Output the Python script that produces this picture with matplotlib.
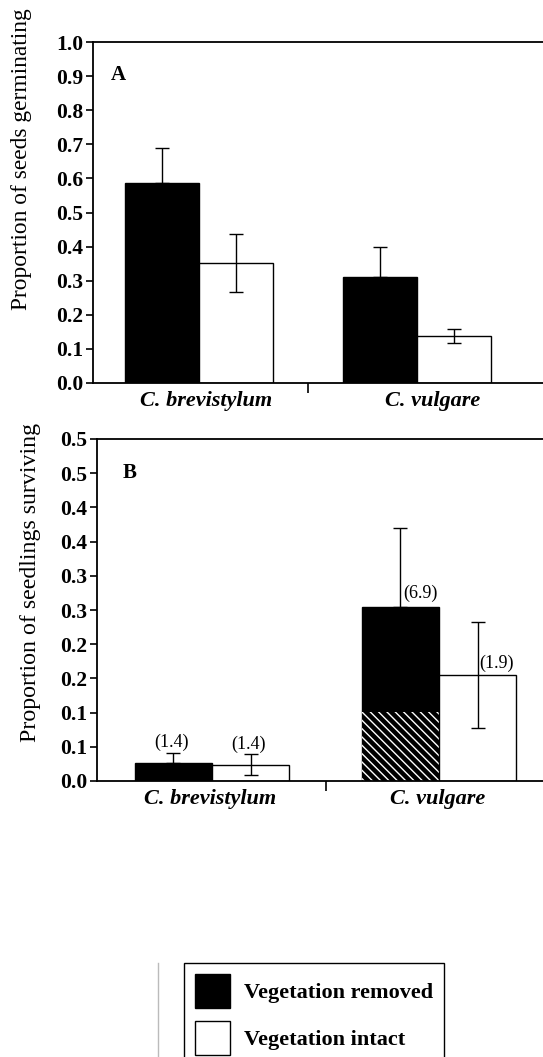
import matplotlib
matplotlib.use("Agg")
import matplotlib.pyplot as plt
from matplotlib.patches import Patch
from matplotlib.lines import Line2D
import matplotlib.transforms as mtransforms
import numpy as np

plt.rcParams['font.family'] = ['Liberation Serif', 'DejaVu Serif']

species = ["C. brevistylum", "C. vulgare"]
legend_labels = ["Vegetation removed", "Vegetation intact"]

# Panel A: proportion of seeds germinating
germ_removed = [0.586, 0.31]
germ_removed_err = [0.104, 0.088]
germ_intact = [0.351, 0.138]
germ_intact_err = [0.085, 0.02]
a_ticks = [0.0, 0.1, 0.2, 0.3, 0.4, 0.5, 0.6, 0.7, 0.8, 0.9, 1.0]
a_ticklabels = ["0.0", "0.1", "0.2", "0.3", "0.4", "0.5", "0.6", "0.7", "0.8", "0.9", "1.0"]

# Panel B: proportion of seedlings surviving
surv_removed = [0.027, 0.254]
surv_removed_hatched = [0.0, 0.101]
surv_removed_err = [0.014, 0.116]
surv_intact = [0.024, 0.155]
surv_intact_err = [0.015, 0.078]
surv_removed_notes = ["(1.4)", "(6.9)"]
surv_intact_notes = ["(1.4)", "(1.9)"]
b_ticks = [0.0, 0.05, 0.10, 0.15, 0.20, 0.25, 0.30, 0.35, 0.40, 0.45, 0.50]
b_ticklabels = ["0.0", "0.1", "0.1", "0.2", "0.2", "0.3", "0.3", "0.4", "0.4", "0.5", "0.5"]

W, H = 543, 1057
fig = plt.figure(figsize=(W / 100, H / 100), dpi=100)

bw = 0.34
x = np.arange(len(species))

tick_font = dict(fontsize=15.5, fontweight='bold')
cat_font = dict(fontsize=16, fontweight='bold', fontstyle='italic')


def style_axes(ax, ticks, ticklabels, ylim, label_shift):
    ax.set_ylim(*ylim)
    ax.set_yticks(ticks)
    ax.set_yticklabels(ticklabels, **tick_font)
    ax.spines['right'].set_visible(False)
    for s in ['left', 'bottom', 'top']:
        ax.spines[s].set_linewidth(1.3)
    ax.tick_params(axis='y', direction='out', length=5, width=1.2, pad=2)
    ax.set_xticks([0.5])
    ax.set_xticklabels([""])
    ax.tick_params(axis='x', which='major', direction='out', length=7, width=1.2)
    ax.set_xticks(x, minor=True)
    ax.set_xticklabels(species, minor=True, **cat_font)
    ax.tick_params(axis='x', which='minor', length=0, pad=6)
    for lab, dx in zip(ax.get_xticklabels(minor=True), label_shift):
        off = mtransforms.ScaledTranslation(dx / 100, 0, fig.dpi_scale_trans)
        lab.set_transform(lab.get_transform() + off)


# Panel A
axA = fig.add_axes([93 / W, 1 - 383 / H, (W - 93) / W, 341 / H])
axA.bar(x - bw / 2, germ_removed, bw, color='black', edgecolor='black', linewidth=1)
axA.bar(x + bw / 2, germ_intact, bw, color='white', edgecolor='black', linewidth=1)
axA.errorbar(x - bw / 2, germ_removed, yerr=[np.zeros(2), germ_removed_err],
             fmt='none', ecolor='black', elinewidth=1, capsize=5, capthick=1)
axA.errorbar(x + bw / 2, germ_intact, yerr=germ_intact_err,
             fmt='none', ecolor='black', elinewidth=1, capsize=5, capthick=1)
axA.set_xlim(-0.486, 1.578)
style_axes(axA, a_ticks, a_ticklabels, (0, 1.0), [7, 16])
axA.text(0.04, 0.903, "A", transform=axA.transAxes, fontsize=15, fontweight='bold',
         va='center', ha='left')

# Panel B
axB = fig.add_axes([97 / W, 1 - 781 / H, (W - 97) / W, 342 / H])
axB.bar(x - bw / 2, surv_removed, bw, color='black', edgecolor='black', linewidth=1)
axB.bar(x - bw / 2, surv_removed_hatched, bw, color='black', edgecolor='white',
        linewidth=0, hatch='\\\\\\\\')
axB.bar(x + bw / 2, surv_intact, bw, color='white', edgecolor='black', linewidth=1)
axB.errorbar(x - bw / 2, surv_removed, yerr=[np.zeros(2), surv_removed_err],
             fmt='none', ecolor='black', elinewidth=1, capsize=5, capthick=1)
axB.errorbar(x + bw / 2, surv_intact, yerr=surv_intact_err,
             fmt='none', ecolor='black', elinewidth=1, capsize=5, capthick=1)
axB.set_xlim(-0.507, 1.458)
style_axes(axB, b_ticks, b_ticklabels, (0, 0.5), [-2, -1])
axB.text(0.058, 0.9, "B", transform=axB.transAxes, fontsize=15, fontweight='bold',
         va='center', ha='left')

# sample-size notes
note_font = dict(fontsize=13)
for i in range(len(species)):
    if i == 0:
        axB.text(x[i] - bw / 2 - 0.01, surv_removed[i] + surv_removed_err[i] + 0.003,
                 surv_removed_notes[i], ha='center', va='bottom', **note_font)
        axB.text(x[i] + bw / 2 - 0.01, surv_intact[i] + surv_intact_err[i] + 0.002,
                 surv_intact_notes[i], ha='center', va='bottom', **note_font)
    else:
        axB.text(x[i] - bw / 2 + 0.012, surv_removed[i] + 0.008,
                 surv_removed_notes[i], ha='left', va='bottom', **note_font)
        axB.text(x[i] + bw / 2 + 0.008, surv_intact[i] + 0.004,
                 surv_intact_notes[i], ha='left', va='bottom', **note_font)

# y labels
fig.text(22 / W, 1 - 159 / H, "Proportion of seeds germinating", rotation=90,
         ha='center', va='center', fontsize=16.8)
fig.text(31 / W, 1 - 582 / H, "Proportion of seedlings surviving", rotation=90,
         ha='center', va='center', fontsize=17.2)

# legend
handles = [Patch(facecolor='black', edgecolor='black'),
           Patch(facecolor='white', edgecolor='black')]
leg = fig.legend(handles, legend_labels, loc='upper left',
                 bbox_to_anchor=(184 / W, 1 - 963 / H), borderaxespad=0,
                 prop=dict(family='Liberation Serif', weight='bold', size=16),
                 handlelength=1.55, handleheight=2.0, labelspacing=0.55,
                 handletextpad=0.65, borderpad=0.5, fancybox=False,
                 edgecolor='black', framealpha=1)
leg.get_frame().set_linewidth(1.0)
fig.add_artist(Line2D([158 / W, 158 / W], [0, 1 - 963 / H], color='#bbbbbb',
                      linewidth=1, transform=fig.transFigure))

fig.savefig("out.png", dpi=100)
